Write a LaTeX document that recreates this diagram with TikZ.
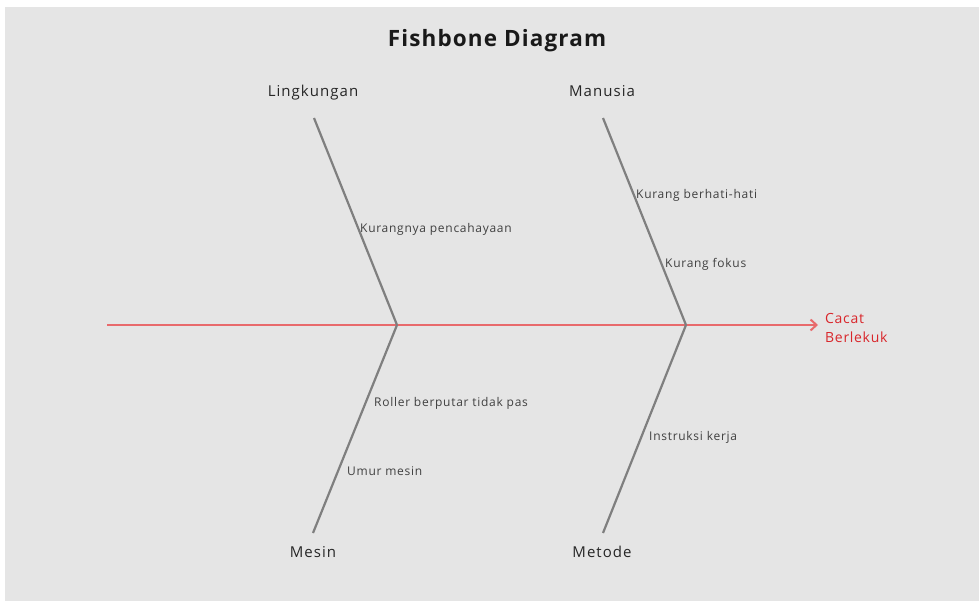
\documentclass[tikz,border=0pt]{standalone}
\usepackage{fontspec}
\setmainfont{Open Sans}
\newfontfamily\titlefont[LetterSpace=5]{Open Sans}
\newfontfamily\catfont[LetterSpace=7]{Open Sans}
\newfontfamily\causefont[LetterSpace=6]{Open Sans}
\newfontfamily\effectfont[LetterSpace=5]{Open Sans}
\usetikzlibrary{arrows.meta}
\definecolor{bggray}{HTML}{E5E5E5}
\definecolor{bonegray}{HTML}{7F7F7F}
\definecolor{spinered}{HTML}{E86A6C}
\definecolor{effectred}{HTML}{D9262B}
\definecolor{causetext}{HTML}{404040}
\tikzset{
  bone/.style={draw=bonegray, line width=2.2pt},
  spine/.style={draw=spinered, line width=2.2pt, -{Straight Barb[length=6pt,width=11pt,line width=2pt]}},
  cat/.style={font=\catfont\fontsize{15}{17}\selectfont, text=black!85, inner sep=0pt, anchor=base},
  cause/.style={font=\causefont\fontsize{12}{14}\selectfont, text=causetext, anchor=west, inner sep=0pt},
  effect/.style={font=\effectfont\fontsize{14}{19}\selectfont, text=effectred, anchor=west, align=left, inner sep=0pt},
}
\begin{document}
\begin{tikzpicture}[x=1pt,y=-1pt]
\useasboundingbox (0,0) rectangle (979,601);
\fill[white] (0,0) rectangle (979,601);
\fill[bggray] (5,7) rectangle (979,601);
\node[font=\titlefont\bfseries\fontsize{22.5}{26}\selectfont, text=black!90] (title) at (497,41) {Fishbone Diagram};
% spine
\coordinate (tail) at (107,325);
\coordinate (head) at (818,325);
\coordinate (j1) at (397,325);
\coordinate (j2) at (686,325);
\draw[spine] (tail) -- (head);
\node[effect] (effect) at (825,328) {Cacat\\Berlekuk};
% category labels
\node[cat] (lingkungan) at (313,96.5) {Lingkungan};
\node[cat] (manusia) at (602,96.5) {Manusia};
\node[cat] (mesin) at (313,557) {Mesin};
\node[cat] (metode) at (602,557) {Metode};
% bone ends
\coordinate (b1) at (314,118);
\coordinate (b2) at (603,118);
\coordinate (b3) at (313,533);
\coordinate (b4) at (603,533);
\draw[bone] (b1) -- (j1);
\draw[bone] (b2) -- (j2);
\draw[bone] (j1) -- (b3);
\draw[bone] (j2) -- (b4);
% causes
\node[cause] (c1) at (360,229) {Kurangnya pencahayaan};
\node[cause] (c2) at (636,195) {Kurang berhati-hati};
\node[cause] (c3) at (665,264) {Kurang fokus};
\node[cause] (c4) at (374,403) {Roller berputar tidak pas};
\node[cause] (c5) at (347,471) {Umur mesin};
\node[cause] (c6) at (649,437) {Instruksi kerja};
\end{tikzpicture}
\end{document}
